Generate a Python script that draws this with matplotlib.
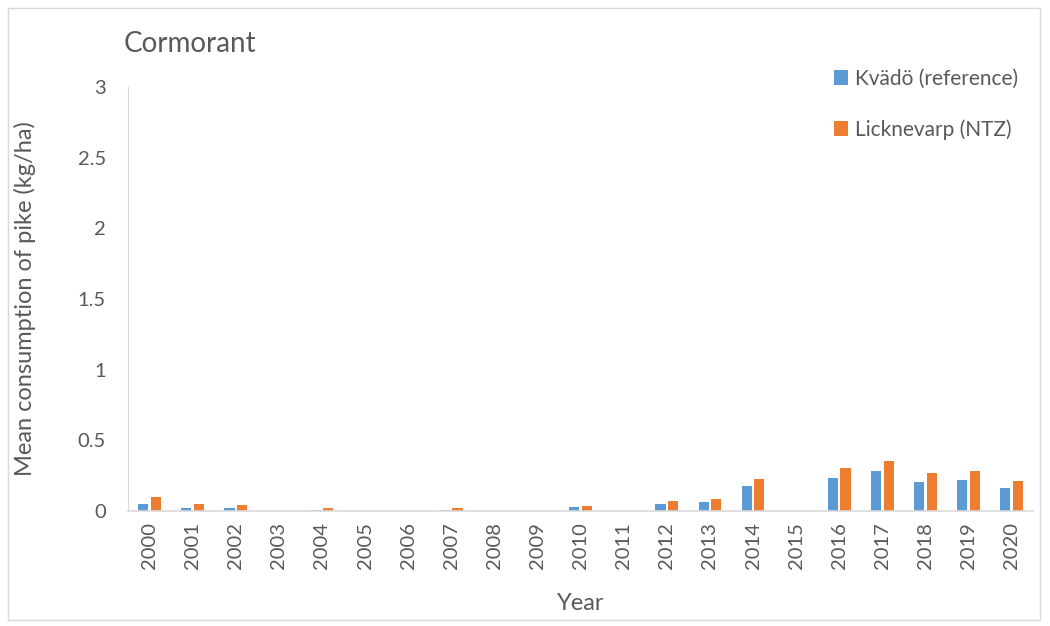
import matplotlib.pyplot as plt
import matplotlib.patches as mpatches
import numpy as np

#   DATA   #
years = [str(y) for y in range(2000, 2021)]
kvado = [0.047, 0.024, 0.021, 0, 0.010, 0, 0, 0.010, 0, 0, 0.028, 0,
         0.047, 0.066, 0.180, 0, 0.236, 0.281, 0.208, 0.222, 0.165]
licknevarp = [0.097, 0.052, 0.045, 0, 0.018, 0, 0, 0.024, 0, 0, 0.038, 0,
              0.071, 0.085, 0.229, 0, 0.304, 0.356, 0.269, 0.285, 0.212]
yticks = [0, 0.5, 1, 1.5, 2, 2.5, 3]
ytick_labels = ['0', '0.5', '1', '1.5', '2', '2.5', '3']

#   PLOT   #
plt.rcParams['font.family'] = ['Lato', 'DejaVu Sans']
text_col = '#595959'

fig = plt.figure(figsize=(10.5, 6.26), dpi=100)
ax = fig.add_axes([0.1219, 0.1837, 0.8621, 0.6773])

x = np.arange(len(years))
w = 0.235
ax.bar(x - 0.145, kvado, width=w, color='#5B9BD5', label='Kvädö (reference)')
ax.bar(x + 0.145, licknevarp, width=w, color='#ED7D31', label='Licknevarp (NTZ)')

ax.set_xlim(-0.5, len(years) - 0.5)
ax.set_ylim(0, 3)
ax.set_yticks(yticks)
ax.set_yticklabels(ytick_labels)
ax.set_xticks(x)
ax.set_xticklabels(years, rotation=90)
ax.tick_params(axis='both', length=0, labelsize=14.5, colors=text_col, pad=8)
ax.tick_params(axis='y', pad=16)

for s in ['top', 'right']:
    ax.spines[s].set_visible(False)
ax.spines['left'].set_color('#D9D9D9')
ax.spines['bottom'].set_color('#D9D9D9')
ax.spines['bottom'].set_linewidth(1.2)

ax.set_xlabel('Year', fontsize=17, color=text_col, labelpad=17)
ax.set_ylabel('Mean consumption of pike (kg/ha)', fontsize=17, color=text_col, labelpad=30)

fig.text(124 / 1050, 1 - 44 / 626, 'Cormorant', fontsize=20, color=text_col,
         ha='left', va='center')

ax.legend(loc='upper left', bbox_to_anchor=(815 / 1050, 1 - 50 / 626),
          bbox_transform=fig.transFigure, frameon=False, fontsize=15,
          labelcolor=text_col, handlelength=0.7, handleheight=0.7,
          handletextpad=0.3, labelspacing=1.45)

# outer border
fig.patches.append(mpatches.Rectangle((8 / 1050, 1 - 620 / 626), 1032 / 1050, 612 / 626,
                                      transform=fig.transFigure, fill=False,
                                      edgecolor='#D9D9D9', linewidth=1))

plt.savefig('out.png', dpi=100)
